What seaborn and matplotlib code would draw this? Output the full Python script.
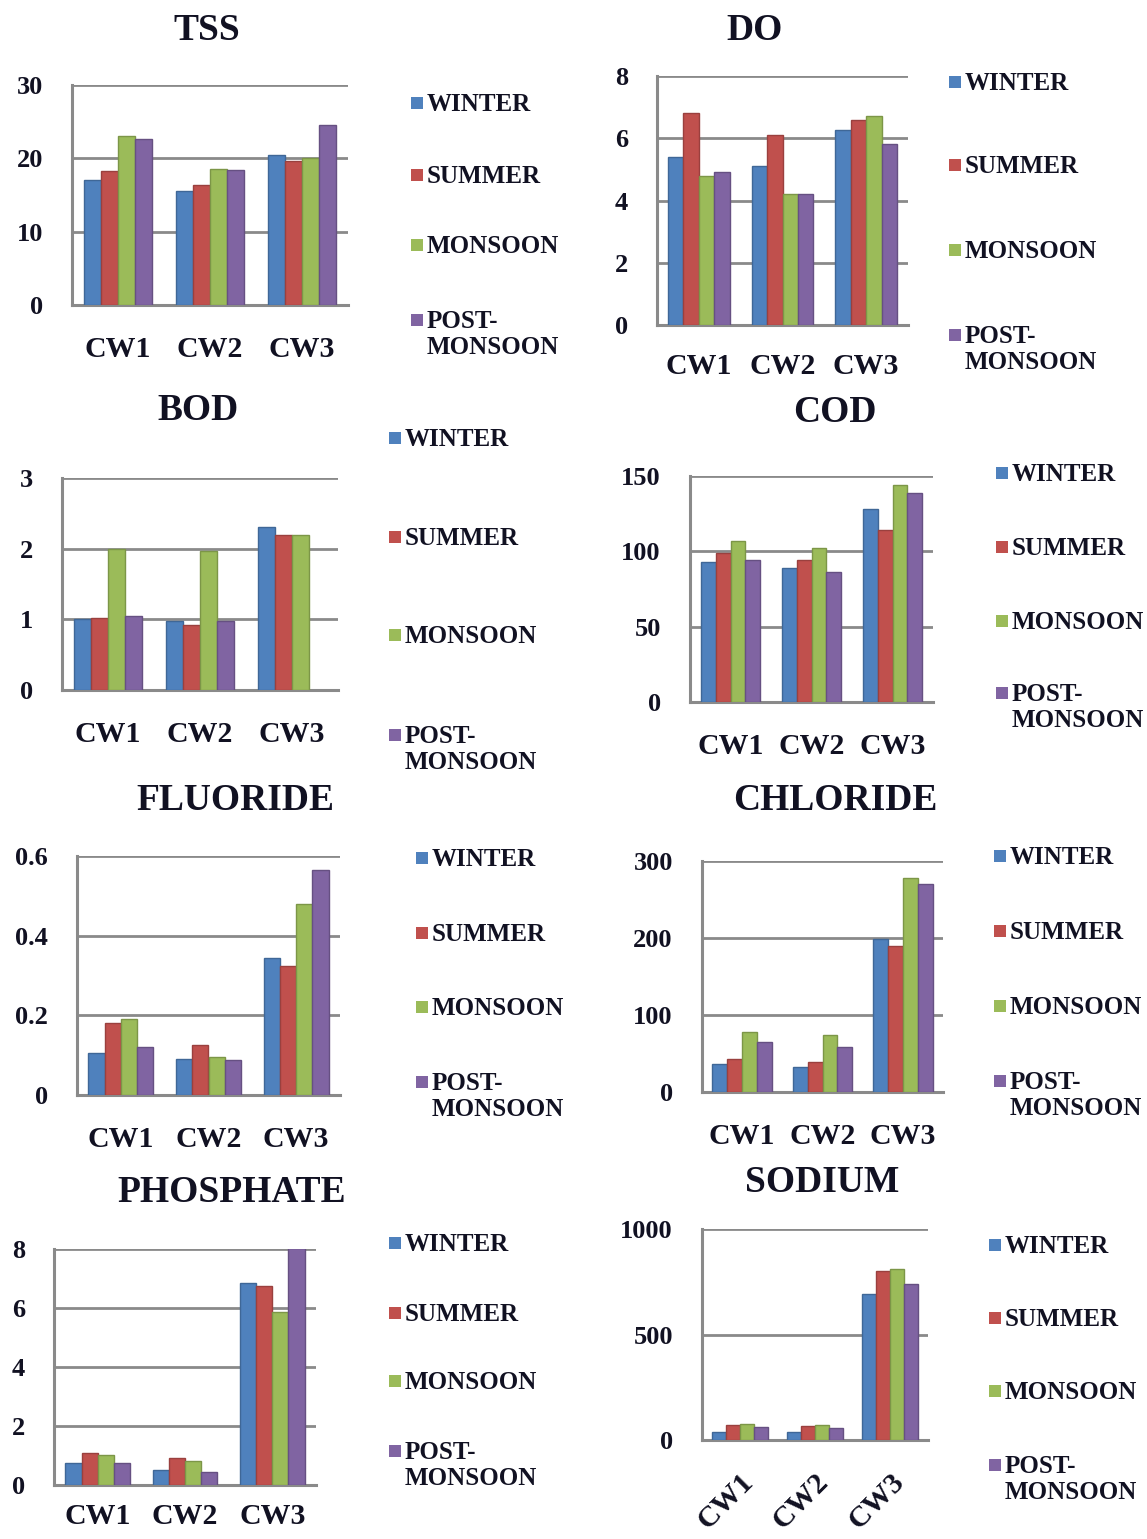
import numpy as np
import pandas as pd
import matplotlib
matplotlib.use("Agg")
import matplotlib.pyplot as plt
from matplotlib.patches import Rectangle
import seaborn as sns

# ---- data (rows: seasons, columns: sites) ----
sites = ["CW1", "CW2", "CW3"]
seasons = ["WINTER", "SUMMER", "MONSOON", "POST-MONSOON"]
legend_labels = ["WINTER", "SUMMER", "MONSOON", "POST-\nMONSOON"]
season_colors = ["#4F81BD", "#C0504D", "#9BBB59", "#8064A2"]

tss = [[17.0, 15.5, 20.4], [18.3, 16.4, 19.7], [23.0, 18.6, 20.0], [22.6, 18.4, 24.6]]
do = [[5.4, 5.1, 6.25], [6.8, 6.1, 6.6], [4.8, 4.2, 6.7], [4.9, 4.2, 5.8]]
bod = [[1.0, 0.98, 2.3], [1.02, 0.92, 2.2], [2.0, 1.97, 2.2], [1.05, 0.98, np.nan]]
cod = [[93, 89, 128], [99, 94, 114], [107, 102, 144], [94, 86, 139]]
fluoride = [[0.105, 0.09, 0.345], [0.18, 0.125, 0.325], [0.19, 0.095, 0.48], [0.12, 0.088, 0.565]]
chloride = [[36, 32, 199], [43, 39, 190], [78, 74, 278], [65, 59, 270]]
phosphate = [[0.75, 0.5, 6.85], [1.08, 0.9, 6.75], [1.03, 0.82, 5.85], [0.75, 0.45, 8.05]]
sodium = [[40, 38, 690], [72, 68, 800], [77, 72, 810], [62, 57, 740]]

tss_ticks = [0, 10, 20, 30]
do_ticks = [0, 2, 4, 6, 8]
bod_ticks = [0, 1, 2, 3]
cod_ticks = [0, 50, 100, 150]
fluoride_ticks = [0, 0.2, 0.4, 0.6]
chloride_ticks = [0, 100, 200, 300]
phosphate_ticks = [0, 2, 4, 6, 8]
sodium_ticks = [0, 500, 1000]

# ---- style ----
sns.set_style("white")
plt.rcParams["font.family"] = ["Liberation Serif", "DejaVu Serif"]
plt.rcParams["font.weight"] = "bold"

W, H = 1147, 1539
fig = plt.figure(figsize=(W / 100, H / 100), dpi=100)
GRID = "#8a8a8a"
INK = "#111122"


def fx(x):
    return x / W


def fy(y):
    return 1 - y / H


# panel layout in pixels: title pos, axes box (left, right, top, bottom),
# legend marker x, legend entry y positions, x-label rotation, x-label pad
panels = [
    ("TSS", tss, tss_ticks, (207, 30), (72, 348, 85, 305), 411, [103, 175, 245, 320], 0, 22),
    ("DO", do, do_ticks, (755, 30), (657, 908, 76, 325), 949, [82, 165, 250, 335], 0, 20),
    ("BOD", bod, bod_ticks, (198, 410), (62, 338, 478, 690), 389, [438, 537, 635, 735], 0, 22),
    ("COD", cod, cod_ticks, (835, 413), (690, 933, 476, 702), 996, [473, 547, 621, 693], 0, 22),
    ("FLUORIDE", fluoride, fluoride_ticks, (235, 800), (77, 340, 856, 1095), 416, [858, 933, 1007, 1082], 0, 22),
    ("CHLORIDE", chloride, chloride_ticks, (835, 800), (702, 943, 861, 1092), 994, [856, 931, 1006, 1081], 0, 22),
    ("PHOSPHATE", phosphate, phosphate_ticks, (232, 1193), (54, 316, 1249, 1485), 389, [1243, 1313, 1381, 1451], 0, 13),
    ("SODIUM", sodium, sodium_ticks, (822, 1183), (702, 928, 1229, 1440), 989, [1245, 1318, 1391, 1465], 45, 20),
]

for title, values, ticks, tpos, box, lx, lys, rot, xpad in panels:
    l, r, t, b = box
    ax = fig.add_axes([fx(l), fy(b), fx(r - l), (b - t) / H])

    df = pd.DataFrame(values, index=seasons, columns=sites)
    long = df.reset_index(names="season").melt(id_vars="season", var_name="site", value_name="value")
    sns.barplot(data=long, x="site", y="value", hue="season", order=sites, hue_order=seasons,
                palette=season_colors, saturation=1, width=0.74, ax=ax, legend=False,
                edgecolor="none", zorder=3)
    # subtle darker rim on each bar
    for patch in ax.patches:
        fc = np.array(patch.get_facecolor()[:3])
        patch.set_edgecolor(tuple(fc * 0.8))
        patch.set_linewidth(1.0)

    ax.set_ylim(ticks[0], ticks[-1])
    ax.set_xlim(-0.5, 2.5)
    ax.set_yticks(ticks)
    ax.set_yticklabels([f"{v:g}" for v in ticks])
    ax.yaxis.grid(True, color=GRID, linewidth=2, zorder=0)
    ax.set_axisbelow(True)
    ax.set_xlabel("")
    ax.set_ylabel("")

    for side in ["top", "right"]:
        ax.spines[side].set_visible(False)
    for side in ["left", "bottom"]:
        ax.spines[side].set_color(GRID)
        ax.spines[side].set_linewidth(2.2)

    ax.tick_params(axis="y", which="major", length=8, width=2, color=GRID,
                   labelsize=19, pad=13, labelcolor=INK)
    ax.set_xticks([-0.5, 0.5, 1.5, 2.5], minor=True)
    ax.tick_params(axis="x", which="minor", length=10, width=2, color=GRID)
    ax.tick_params(axis="x", which="major", length=0, labelsize=21.5, pad=xpad,
                   labelcolor=INK)
    for lab in ax.get_yticklabels() + ax.get_xticklabels():
        lab.set_fontweight("bold")
    if rot:
        for lab in ax.get_xticklabels():
            lab.set_rotation(rot)
            lab.set_ha("right")
            lab.set_va("top")
            lab.set_rotation_mode("anchor")

    fig.text(fx(tpos[0]), fy(tpos[1]), title, ha="center", va="center",
             fontsize=27, fontweight="bold", color=INK)

    # legend entries
    for lab, col, yy in zip(legend_labels, season_colors, lys):
        fig.patches.append(Rectangle((fx(lx), fy(yy + 6)), fx(12), 12 / H,
                                     transform=fig.transFigure, facecolor=col,
                                     edgecolor="none", figure=fig))
        fig.text(fx(lx + 16), fy(yy - 10), lab, ha="left", va="top", fontsize=18,
                 fontweight="bold", color=INK, linespacing=1.15)

fig.savefig("out.png", dpi=100, facecolor="white")
